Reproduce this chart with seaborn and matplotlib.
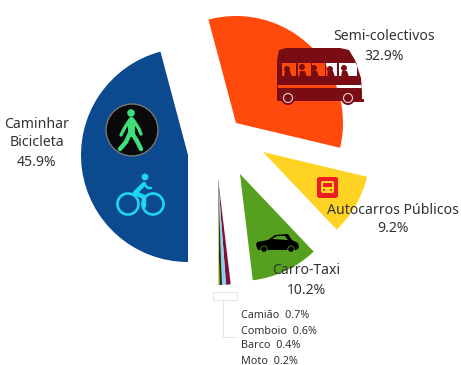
import matplotlib
matplotlib.use("Agg")
import matplotlib.pyplot as plt
import seaborn as sns
from matplotlib.patches import Circle, Polygon, PathPatch, FancyBboxPatch, Rectangle
from matplotlib.path import Path

# ---- data
categories = ["Caminhar Bicicleta", "Semi-colectivos", "Autocarros Públicos", "Carro-Taxi",
              "Camião", "Comboio", "Barco", "Moto"]
values = [45.9, 32.9, 9.2, 10.2, 0.7, 0.6, 0.4, 0.2]
colours = ["#0b4a8e", "#ff4a0c", "#ffd324", "#55a01e", "#7c1238", "#8fd0ee", "#2c2c20", "#c8d64c"]

# ---- layout (pixel positions of the separated wedge apexes)
W, H = 461, 365
apex = [(188, 155), (236, 123), (263, 152), (240, 174),
        (218, 178), (218, 178), (218, 178), (218, 178)]
RADIUS = 107
FONT = "Noto Sans"
TXT = "#333333"


def P(x, y):
    return (x, H - y)


def PP(pts):
    return [P(*p) for p in pts]


sns.set_theme(style="white", font=FONT)
fig, ax = plt.subplots(figsize=(W / 100, H / 100), dpi=100)
fig.subplots_adjust(0, 0, 1, 1)

wedges, _ = ax.pie(values, colors=sns.color_palette(colours), startangle=270,
                   counterclock=False, radius=RADIUS, normalize=True,
                   wedgeprops=dict(linewidth=0))
for w, c in zip(wedges, apex):
    w.set_center(P(*c))
ax.set_xlim(0, W)
ax.set_ylim(0, H)
ax.set_aspect("equal")
ax.axis("off")


def rect_path(x0, y0, x1, y1, hole=False):
    pts = [P(x0, y0), P(x1, y0), P(x1, y1), P(x0, y1), P(x0, y0)]
    if hole:
        pts = pts[::-1]
    return pts, [Path.MOVETO, Path.LINETO, Path.LINETO, Path.LINETO, Path.CLOSEPOLY]


def stroke(pts, color, lw, z=6):
    xs, ys = zip(*PP(pts))
    ax.plot(xs, ys, color=color, lw=lw, solid_capstyle="round", solid_joinstyle="round", zorder=z)


# ---- small bracket under the thin wedges
GR = "#e4e4e4"
ax.add_patch(Rectangle(P(213, 300), 24, 8, fc="white", ec=GR, lw=0.7, zorder=2))
ax.plot(*zip(P(223, 300), P(223, 337), P(236, 337)), color=GR, lw=0.7, zorder=2)

# ---- minibus (windows are real holes so the wedge shows through)
BUS = "#7a0c14"
verts, codes = [], []
outline = [(277, 60), (279, 50), (286, 48), (340, 48), (349, 50), (355, 60), (361, 78), (362, 92),
           (362, 101), (277, 101)]
verts += PP(outline) + [P(277, 60)]
codes += [Path.MOVETO] + [Path.LINETO] * (len(outline) - 1) + [Path.CLOSEPOLY]
for box in [(282, 63, 296, 76), (298, 63, 311, 76), (312, 63, 325, 76), (326, 63, 337, 76),
            (339, 63, 357, 76), (278, 85, 362, 88)]:
    v, c = rect_path(*box, hole=True)
    verts += v
    codes += c
ax.add_patch(PathPatch(Path(verts, codes), fc=BUS, ec="none", zorder=5))
for cx, cy in [(287, 69), (302, 67), (314, 68), (330, 69), (344, 68)]:
    ax.add_patch(Circle(P(cx, cy), 3, fc=BUS, ec="none", zorder=6))
    ax.add_patch(Polygon(PP([(cx - 3, 77), (cx - 2, 71), (cx + 3, 71), (cx + 5, 77)]),
                         fc=BUS, ec="none", zorder=6))
for cx in (288, 348):
    ax.add_patch(Circle(P(cx, 98), 7, fc=BUS, ec="none", zorder=6))
    ax.add_patch(Circle(P(cx, 98), 4.5, fc=BUS, ec="#e8d0d0", lw=0.8, zorder=7))
ax.add_patch(Rectangle(P(350, 102), 14, 3, fc=BUS, ec="none", zorder=5))

# ---- pedestrian traffic light
ax.add_patch(Circle(P(132, 130), 26, fc="#0a0a0a", ec="#777777", lw=1, zorder=5))
GREEN = "#3fe07a"
ax.add_patch(Circle(P(131, 113), 3.8, fc=GREEN, ec="none", zorder=6))
stroke([(131, 120), (131, 133)], GREEN, 5)
stroke([(129, 121), (124, 129), (121, 135)], GREEN, 2.4)
stroke([(134, 121), (139, 129), (141, 134)], GREEN, 2.4)
stroke([(130, 133), (126, 142), (120, 149)], GREEN, 3.2)
stroke([(132, 133), (137, 141), (141, 149)], GREEN, 3.2)

# ---- bicycle
CY = "#1fd6f2"
for cx in (128, 153):
    ax.add_patch(Circle(P(cx, 204), 10.5, fc="none", ec=CY, lw=1.9, zorder=6))
ax.add_patch(Circle(P(145, 177), 3.4, fc=CY, ec="none", zorder=6))
stroke([(144, 184), (135, 193), (144, 197), (144, 206)], CY, 3.2)
stroke([(144, 184), (148, 188), (151, 188)], CY, 1.8)

# ---- bus sign
ax.add_patch(FancyBboxPatch(P(317, 198), 21, 21, boxstyle="round,pad=0,rounding_size=2.5",
                            fc="#ee1c25", ec="none", zorder=5))
ax.add_patch(FancyBboxPatch(P(321, 193), 13, 12, boxstyle="round,pad=0,rounding_size=2",
                            fc="#ffd324", ec="none", zorder=6))
ax.add_patch(Rectangle(P(323, 187), 9, 4, fc="#ee1c25", ec="none", zorder=7))
for cx in (324, 331):
    ax.add_patch(Circle(P(cx, 190), 1, fc="#ee1c25", ec="none", zorder=7))

# ---- car
car = [(256, 245), (257, 242), (268, 240), (275, 235), (288, 234), (292, 240), (298, 243),
       (299, 248), (296, 250), (258, 250)]
ax.add_patch(Polygon(PP(car), fc="black", ec="none", zorder=6))
ax.add_patch(Polygon(PP([(272, 239), (277, 236), (285, 236), (288, 240)]), fc="#55a01e", ec="none", zorder=7))
for cx in (264, 291):
    ax.add_patch(Circle(P(cx, 249), 3.2, fc="black", ec="#55a01e", lw=0.5, zorder=7))

# ---- labels
labels = [(37, 124, "Caminhar"), (37, 143, "Bicicleta"), (37, 162, f"{values[0]}%"),
          (384, 37, categories[1]), (384, 57, f"{values[1]}%"),
          (393, 210, categories[2]), (393, 229, f"{values[2]}%"),
          (306, 271, categories[3]), (306, 290, f"{values[3]}%")]
for x, y, t in labels:
    ax.text(*P(x, y), t, ha="center", va="center", fontsize=10.1, color=TXT, zorder=8)
for y, name, v in zip((316, 331, 346, 361), categories[4:], values[4:]):
    ax.text(*P(241, y), f"{name}  {v}%", ha="left", va="center", fontsize=7.8, color=TXT, zorder=8)

fig.savefig("out.png", dpi=100, facecolor="white")
